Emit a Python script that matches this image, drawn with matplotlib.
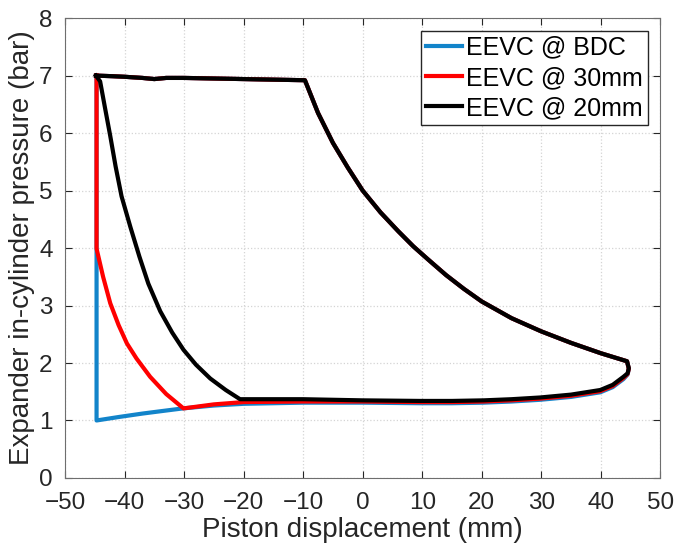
import numpy as np
import matplotlib
matplotlib.use('Agg')
import matplotlib.pyplot as plt

plt.rcParams['font.family'] = ['Liberation Sans', 'DejaVu Sans']

# shared top (admission) line and expansion curve
top_x = [-44.8, -42, -40, -37, -35, -33, -30, -25, -20, -15, -9.7]
top_y = [7.00, 6.99, 6.98, 6.96, 6.94, 6.96, 6.96, 6.95, 6.94, 6.93, 6.92]
exp_x = [-9.7, -7.5, -5, -2.5, 0, 3, 6, 8.5, 11, 14, 17, 20, 25, 30, 35, 40, 44.4]
exp_y = [6.92, 6.35, 5.83, 5.40, 5.00, 4.62, 4.29, 4.03, 3.80, 3.53, 3.29, 3.07, 2.78, 2.55, 2.35, 2.17, 2.03]

# exhaust (return) strokes
ret_x = [44.4, 44.7, 44.5, 43.8, 42, 39.9, 35, 29.8, 25, 20.3, 15, 9.7, 0, -10]
ret_y_bdc = [2.03, 1.90, 1.80, 1.72, 1.58, 1.49, 1.41, 1.36, 1.33, 1.31, 1.30, 1.30, 1.31, 1.31]
ret_y_30 = [2.03, 1.90, 1.81, 1.74, 1.60, 1.51, 1.43, 1.38, 1.35, 1.33, 1.32, 1.32, 1.33, 1.33]
ret_y_20 = [2.03, 1.91, 1.82, 1.76, 1.62, 1.53, 1.45, 1.40, 1.37, 1.35, 1.34, 1.34, 1.35, 1.37]

# late exhaust + recompression, per case
bdc_x = [-20, -25, -30.2, -34, -37, -41, -44.7, -44.7, -44.7]
bdc_y = [1.29, 1.26, 1.21, 1.16, 1.12, 1.06, 1.00, 4.05, 7.00]
c30_x = [-20, -25, -30.1, -33, -35.7, -38, -39.6, -41, -42.4, -43.6, -44.7, -44.7]
c30_y = [1.32, 1.28, 1.21, 1.46, 1.76, 2.08, 2.34, 2.66, 3.04, 3.50, 3.99, 7.00]
c20_x = [-20.6, -23, -25.6, -28, -30.1, -32, -34, -36, -37.5, -39, -40.5, -41.5, -42.4, -43.3, -44.1, -44.8]
c20_y = [1.37, 1.53, 1.73, 1.97, 2.23, 2.53, 2.90, 3.38, 3.85, 4.36, 4.90, 5.42, 5.95, 6.45, 6.90, 7.00]

labels = ['EEVC @ BDC', 'EEVC @ 30mm', 'EEVC @ 20mm']
colors = ['#1284CA', '#FF0000', '#000000']

fig = plt.figure(figsize=(6.75, 5.5), dpi=100)
ax = fig.add_axes([0.0963, 0.131, 0.882, 0.836])

loops = [(ret_y_bdc, bdc_x, bdc_y), (ret_y_30, c30_x, c30_y), (ret_y_20, c20_x, c20_y)]
for (ry, cx, cy), lab, col in zip(loops, labels, colors):
    xs = np.concatenate([top_x, exp_x, ret_x, cx])
    ys = np.concatenate([top_y, exp_y, ry, cy])
    ax.plot(xs, ys, color=col, lw=3.0, label=lab, solid_joinstyle='round')

ax.set_xlim(-50, 50)
ax.set_ylim(0, 8)
ax.set_xticks(np.arange(-50, 51, 10))
ax.set_yticks(np.arange(0, 9, 1))
ax.grid(True, color='#d4d4d4', linestyle=':', linewidth=0.9)
ax.set_axisbelow(True)
ax.tick_params(direction='in', top=True, right=True, labelsize=17.5, colors='#262626',
               length=5)
ax.tick_params(axis='x', pad=10)
ax.tick_params(axis='y', pad=9)
for sp in ax.spines.values():
    sp.set_color('#6e6e6e')
ax.set_xlabel('Piston displacement (mm)', fontsize=20, color='#262626', labelpad=2)
ax.set_ylabel('Expander in-cylinder pressure (bar)', fontsize=20, color='#262626', labelpad=3)

leg = ax.legend(loc='upper right', fontsize=18, fancybox=False, framealpha=1,
                edgecolor='#262626', handlelength=1.45, handletextpad=0.15,
                borderpad=0.2, labelspacing=0.25, borderaxespad=0.5)
leg.get_frame().set_linewidth(1.0)

fig.savefig('out.png', dpi=100)
